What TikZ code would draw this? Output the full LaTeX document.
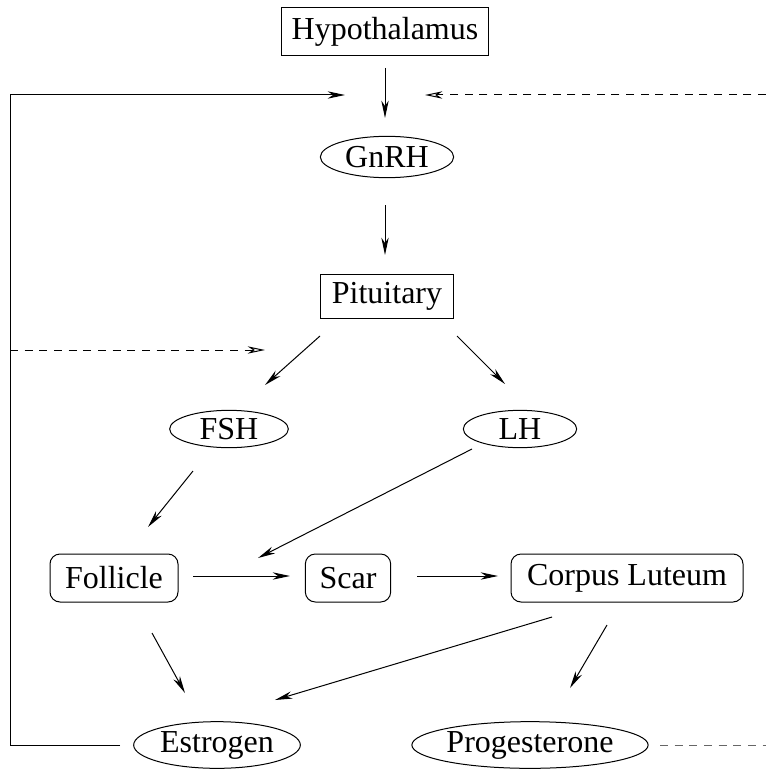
\documentclass[tikz,border=0pt]{standalone}
\usepackage{fontspec}
\setmainfont{Liberation Serif}
\usetikzlibrary{arrows.meta,shapes.geometric}
\begin{document}
\begin{tikzpicture}[x=0.75pt,y=-0.75pt,
  every node/.style={font=\fontsize{24}{27}\selectfont, inner sep=0pt, line width=0.75pt},
  sqbox/.style={draw, rectangle},
  rbox/.style={draw, rectangle, rounded corners=7.5pt},
  oval/.style={draw, ellipse},
  arr/.style={line width=0.75pt, -{Stealth[length=13pt,width=5.5pt,inset=4pt]}},
  darr/.style={line width=0.75pt, dash pattern=on 6pt off 5pt, -{Stealth[open,length=13pt,width=5.5pt,inset=4pt]}},
  dline/.style={line width=0.75pt, dash pattern=on 6pt off 5pt, draw=black!60},
  wire/.style={line width=0.75pt}]
\useasboundingbox (0,0) rectangle (766,770);
% nodes
\node[sqbox, minimum width=155pt, minimum height=36pt] (hyp) at (385,32) {Hypothalamus};
\node[oval, minimum width=100pt, minimum height=31pt] (gnrh) at (387,157) {GnRH};
\node[sqbox, minimum width=100pt, minimum height=33pt] (pit) at (387,296) {Pituitary};
\node[oval, minimum width=89pt, minimum height=28pt] (fsh) at (229,429) {FSH};
\node[oval, minimum width=85pt, minimum height=28pt] (lh) at (520,429) {LH};
\node[rbox, minimum width=96pt, minimum height=36pt] (fol) at (114,578) {Follicle};
\node[rbox, minimum width=64pt, minimum height=36pt] (scar) at (348,578) {Scar};
\node[rbox, minimum width=174pt, minimum height=36pt] (cl) at (627,578) {Corpus Luteum};
\node[oval, minimum width=125pt, minimum height=35pt] (est) at (217,745) {Estrogen};
\node[oval, minimum width=173pt, minimum height=35pt] (prog) at (530,745) {Progesterone};
% connector end points
\coordinate (a1s) at (385,68);  \coordinate (a1e) at (385,118);
\coordinate (a2s) at (385,205); \coordinate (a2e) at (385,255);
\coordinate (a3s) at (320,336); \coordinate (a3e) at (265,385);
\coordinate (a4s) at (457,336); \coordinate (a4e) at (505,384);
\coordinate (a5s) at (193,471); \coordinate (a5e) at (148,527);
\coordinate (a6s) at (472,449); \coordinate (a6e) at (258,558);
\coordinate (a7s) at (193,576); \coordinate (a7e) at (290,576);
\coordinate (a8s) at (417,576); \coordinate (a8e) at (498,576);
\coordinate (a9s) at (152,633); \coordinate (a9e) at (185,693);
\coordinate (a10s) at (552,617); \coordinate (a10e) at (275,700);
\coordinate (a11s) at (607,625); \coordinate (a11e) at (570,688);
\coordinate (lp1) at (120,745); \coordinate (lp2) at (10,745);
\coordinate (lp3) at (10,95);   \coordinate (lp4) at (345,95);
\coordinate (dt1) at (766,95);  \coordinate (dt2) at (425,95);
\coordinate (dm1) at (10,350);  \coordinate (dm2) at (265,350);
\coordinate (db1) at (660,745); \coordinate (db2) at (766,745);
% connectors
\draw[arr] (a1s) -- (a1e);
\draw[arr] (a2s) -- (a2e);
\draw[arr] (a3s) -- (a3e);
\draw[arr] (a4s) -- (a4e);
\draw[arr] (a5s) -- (a5e);
\draw[arr] (a6s) -- (a6e);
\draw[arr] (a7s) -- (a7e);
\draw[arr] (a8s) -- (a8e);
\draw[arr] (a9s) -- (a9e);
\draw[arr] (a10s) -- (a10e);
\draw[arr] (a11s) -- (a11e);
\draw[arr] (lp1) -- (lp2) -- (lp3) -- (lp4);
\draw[darr] (dt1) -- (dt2);
\draw[darr] (dm1) -- (dm2);
\draw[dline] (db1) -- (db2);
\end{tikzpicture}
\end{document}
